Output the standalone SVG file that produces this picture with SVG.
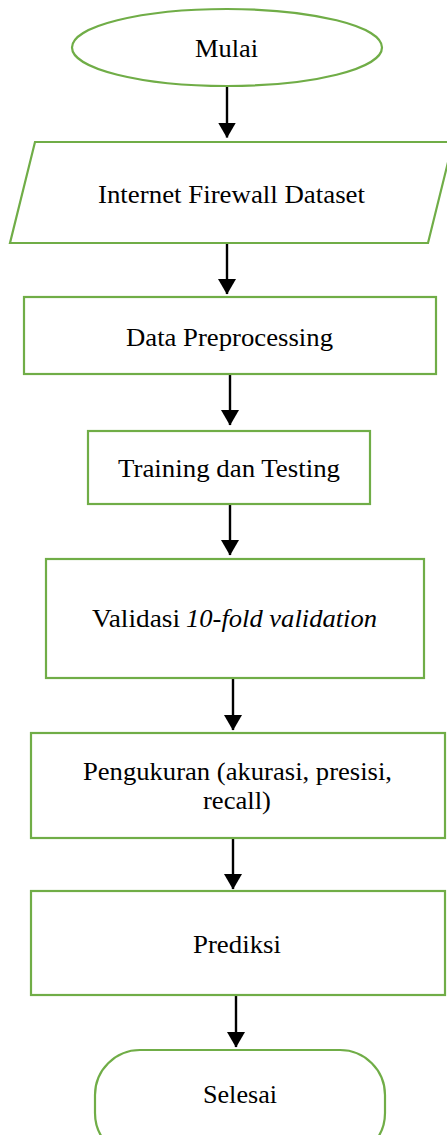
<svg xmlns="http://www.w3.org/2000/svg" width="447" height="1135" viewBox="0 0 447 1135">
<style>
.n{fill:#fff;stroke:#70AD47;stroke-width:2.2}
.t{font-family:"Liberation Serif","Times New Roman",serif;font-size:26px;fill:#000;text-anchor:middle}
.ts{font-family:"Liberation Serif","Times New Roman",serif;font-size:26px;fill:#000}
.c{stroke:#000;stroke-width:2.4;fill:none;marker-end:url(#ah)}
</style>
<defs>
<marker id="ah" markerUnits="userSpaceOnUse" markerWidth="16" markerHeight="18" viewBox="0 0 16 18" refX="15" refY="9" orient="auto">
<path d="M0,0 L15.5,9 L0,18 Z" fill="#000"/>
</marker>
</defs>
<rect width="447" height="1135" fill="#fff"/>
<g id="connectors">
<path class="c" d="M227,86 V137.5"/>
<path class="c" d="M227,243 V294"/>
<path class="c" d="M230,374 V425"/>
<path class="c" d="M230,504 V555"/>
<path class="c" d="M233,678 V730"/>
<path class="c" d="M233,838 V889"/>
<path class="c" d="M236,995 V1047"/>
</g>
<g id="mulai">
<ellipse class="n" cx="227" cy="47.5" rx="155" ry="38.5"/>
<text class="t" x="226.5" y="57" textLength="63" lengthAdjust="spacingAndGlyphs">Mulai</text>
</g>
<g id="dataset">
<polygon class="n" points="35,142 453,142 428,243 10,243"/>
<text class="t" x="231.5" y="203" textLength="267" lengthAdjust="spacingAndGlyphs">Internet Firewall Dataset</text>
</g>
<g id="preprocessing">
<rect class="n" x="24" y="297" width="412" height="77"/>
<text class="t" x="229.5" y="346" textLength="207" lengthAdjust="spacingAndGlyphs">Data Preprocessing</text>
</g>
<g id="training">
<rect class="n" x="88" y="431" width="282" height="73"/>
<text class="t" x="229" y="477" textLength="222" lengthAdjust="spacingAndGlyphs">Training dan Testing</text>
</g>
<g id="validasi">
<rect class="n" x="46" y="559" width="378" height="119"/>
<text class="ts" x="92" y="627" textLength="88" lengthAdjust="spacingAndGlyphs">Validasi</text>
<text class="ts" x="186" y="627" textLength="191" lengthAdjust="spacingAndGlyphs" font-style="italic">10-fold validation</text>
</g>
<g id="pengukuran">
<rect class="n" x="31" y="733" width="414" height="105"/>
<text class="t" x="237.5" y="780" textLength="309" lengthAdjust="spacingAndGlyphs">Pengukuran (akurasi, presisi,</text>
<text class="t" x="237" y="809" textLength="68" lengthAdjust="spacingAndGlyphs">recall)</text>
</g>
<g id="prediksi">
<rect class="n" x="31" y="891" width="414" height="104"/>
<text class="t" x="237" y="953" textLength="88" lengthAdjust="spacingAndGlyphs">Prediksi</text>
</g>
<g id="selesai">
<rect class="n" x="95" y="1050" width="290" height="108" rx="45" ry="45"/>
<text class="t" x="240" y="1103" textLength="74" lengthAdjust="spacingAndGlyphs">Selesai</text>
</g>
</svg>
